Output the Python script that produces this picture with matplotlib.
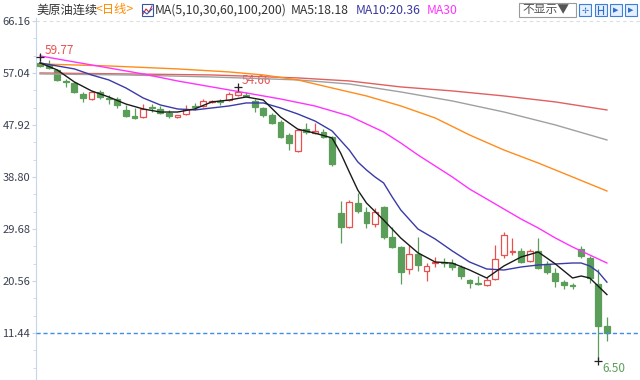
import matplotlib
matplotlib.use("Agg")
import matplotlib.pyplot as plt
from matplotlib.patches import Rectangle
from matplotlib.lines import Line2D
from matplotlib.ticker import AutoMinorLocator

plt.rcParams['font.family'] = ['Noto Sans CJK SC', 'DejaVu Sans']

# daily candles
opens = [58.81, 58.46, 57.58, 55.65, 55.30, 53.37, 52.49, 53.72, 52.67, 52.49,
         50.56, 49.51, 49.33, 51.09, 50.74, 50.04, 49.33, 49.86, 51.27, 51.27,
         51.90, 52.14, 52.32, 53.20, 53.20, 52.14, 50.91, 49.68, 48.46, 46.18,
         43.37, 47.23, 46.60, 46.70, 45.83, 32.49, 30.04, 34.25, 32.67, 30.56,
         33.54, 28.28, 26.53, 22.67, 25.30, 22.32, 23.72, 23.90, 23.72, 23.02,
         20.74, 20.20, 19.86, 20.91, 25.12, 25.65, 25.82, 24.07, 25.82, 23.55,
         21.97, 20.39, 19.80, 26.18, 24.60, 20.04, 12.67]
highs = [59.77, 59.33, 57.76, 56.00, 55.47, 53.72, 53.90, 54.07, 53.20, 52.84,
         51.44, 50.90, 51.60, 51.60, 51.27, 50.56, 49.68, 51.44, 51.79, 52.49,
         52.30, 52.49, 53.72, 54.66, 53.72, 52.49, 51.09, 50.04, 48.81, 46.53,
         47.23, 48.28, 48.28, 47.23, 46.00, 34.60, 34.77, 36.00, 33.54, 33.37,
         33.72, 30.04, 26.70, 26.88, 28.28, 23.72, 24.77, 24.60, 24.42, 23.37,
         20.91, 21.44, 21.26, 26.88, 29.16, 28.10, 26.35, 26.18, 28.10, 24.07,
         22.84, 20.74, 20.21, 26.70, 24.95, 22.67, 14.25]
lows = [58.11, 57.76, 55.65, 54.60, 53.55, 51.97, 52.32, 52.49, 51.60, 50.90,
        49.33, 48.98, 49.16, 50.20, 49.86, 49.16, 49.20, 49.68, 50.56, 51.09,
        51.80, 51.44, 52.14, 53.02, 52.84, 50.20, 49.33, 48.10, 45.65, 43.54,
        43.19, 46.35, 46.35, 45.65, 40.74, 27.23, 29.86, 32.49, 29.86, 30.04,
        27.93, 26.35, 20.04, 21.79, 22.32, 20.56, 23.02, 23.02, 22.49, 20.91,
        19.33, 19.86, 19.68, 20.74, 24.60, 25.12, 23.72, 23.90, 22.67, 21.79,
        19.51, 19.16, 19.16, 24.60, 20.21, 6.50, 10.04]
closes = [58.28, 57.93, 55.83, 55.47, 53.72, 52.67, 53.72, 52.84, 52.49, 51.44,
          49.51, 49.16, 50.74, 50.82, 50.04, 49.51, 49.60, 50.74, 51.09, 52.14,
          52.05, 51.88, 53.37, 53.72, 53.02, 51.09, 49.68, 48.28, 45.83, 44.77,
          47.05, 46.70, 46.88, 45.83, 41.09, 30.04, 34.42, 32.84, 30.74, 32.67,
          28.28, 26.53, 22.14, 25.30, 23.37, 23.20, 23.98, 23.72, 23.02, 21.44,
          20.21, 20.00, 20.74, 24.42, 28.63, 25.90, 23.90, 25.82, 22.84, 22.14,
          20.56, 19.86, 19.60, 24.95, 21.09, 12.67, 11.44]

# moving averages, sampled at candle positions
ma5_idx = [0, 2, 4, 6, 8, 10, 12, 14, 16, 18, 20, 22, 24, 26, 28, 30, 32, 34, 35,
           36, 37, 38, 40, 42, 44, 46, 48, 50, 52, 54, 56, 58, 60, 62, 63, 64, 66]
ma5 = [58.81, 57.58, 55.47, 53.90, 52.84, 51.60, 50.74, 50.20, 50.20, 50.74, 51.97,
       52.30, 52.84, 52.30, 49.33, 47.20, 46.50, 45.65, 43.00, 39.70, 36.50, 34.25,
       31.26, 28.10, 25.50, 23.90, 23.70, 22.50, 21.09, 23.20, 24.77, 25.65, 23.55,
       21.09, 21.44, 21.09, 18.18]
ma10_idx = [0, 2, 4, 6, 8, 10, 12, 14, 16, 18, 20, 22, 24, 26, 28, 30, 32, 34, 36,
            37, 38, 39, 40, 41, 42, 44, 46, 48, 50, 52, 54, 56, 58, 60, 62, 63, 64,
            65, 66]
ma10 = [58.81, 58.28, 57.76, 56.70, 55.83, 54.42, 52.67, 51.44, 50.74, 50.56, 50.91,
        51.26, 51.79, 51.79, 50.91, 49.86, 48.63, 46.88, 43.54, 41.44, 40.04, 38.81,
        37.76, 35.30, 33.02, 29.68, 27.93, 25.83, 23.90, 22.67, 22.49, 23.02, 23.37,
        23.55, 23.72, 23.72, 23.20, 22.14, 20.36]
ma30_idx = [0, 4, 8, 12, 16, 20, 24, 28, 32, 36, 40, 42, 44, 46, 48, 50, 52, 54,
            56, 58, 60, 62, 64, 66]
ma30 = [60.04, 58.98, 57.93, 56.88, 55.65, 54.60, 53.55, 52.49, 51.26, 49.51, 46.70,
        44.77, 42.67, 40.74, 38.81, 36.70, 34.95, 33.19, 31.44, 29.86, 28.10, 26.53,
        25.12, 23.72]
ma60_idx = [0, 8, 16, 22, 26, 30, 34, 38, 42, 46, 50, 54, 58, 62, 66]
ma60 = [58.63, 58.28, 57.76, 57.23, 56.70, 55.83, 54.42, 53.02, 51.27, 49.16, 46.18,
        43.54, 41.26, 38.81, 36.35]
ma100_idx = [0, 10, 20, 30, 36, 42, 48, 54, 60, 66]
ma100 = [56.88, 56.70, 56.35, 55.83, 55.12, 53.72, 52.14, 50.21, 47.93, 45.30]
ma200_idx = [0, 10, 20, 30, 36, 42, 48, 54, 60, 66]
ma200 = [57.05, 56.88, 56.70, 56.18, 55.65, 54.60, 53.90, 53.02, 51.97, 50.56]

ytick_vals = [11.44, 20.56, 29.68, 38.80, 47.92, 57.04, 66.16]

UP = '#e8514f'
DOWN = '#5a9e5a'

fig = plt.figure(figsize=(6.4, 3.8), dpi=100)
ax = fig.add_axes([36 / 640, 0, 1 - 36 / 640, (380 - 18) / 380])
ax.set_xlim(-0.47, 69.85)
ax.set_ylim(3.20, 66.69)

# candles
w = 0.68
for i, (o, h, l, c) in enumerate(zip(opens, highs, lows, closes)):
    col = UP if c >= o else DOWN
    ax.vlines(i, l, h, color=col, lw=0.9, zorder=2)
    bot = min(o, c)
    hgt = max(abs(c - o), 0.12)
    face = 'white' if c >= o else DOWN
    ax.add_patch(Rectangle((i - w / 2, bot), w, hgt, facecolor=face,
                           edgecolor=col, lw=0.9, zorder=3))

# moving averages
ax.plot(ma200_idx, ma200, color='#e06060', lw=1.0, zorder=4)
ax.plot(ma100_idx, ma100, color='#a0a0a0', lw=1.0, zorder=4)
ax.plot(ma60_idx, ma60, color='#ff8c1a', lw=1.0, zorder=4)
ax.plot(ma30_idx, ma30, color='#ff33ff', lw=1.0, zorder=4)
ax.plot(ma10_idx, ma10, color='#3a3aa8', lw=1.0, zorder=5)
ax.plot(ma5_idx, ma5, color='#1a1a1a', lw=1.0, zorder=5)

# reference lines
ax.axhline(66.16, color='#dddddd', lw=0.8, ls=(0, (3, 3)), zorder=1)
ax.axhline(closes[-1], color='#3d8ee8', lw=1.0, ls=(0, (3, 2)), zorder=6)

# high / low markers
hi_i = highs.index(max(highs))
ax.plot([hi_i, 23, 65], [highs[hi_i], highs[23], lows[65]], '+', color='#222222',
        ms=6, mew=0.9, zorder=7)
ax.annotate('59.77', xy=(hi_i, highs[hi_i]), xytext=(5, 7), textcoords='offset pixels',
            color=UP, fontsize=8.5, va='center', ha='left')
ax.annotate('54.66', xy=(23, highs[23]), xytext=(4, 6), textcoords='offset pixels',
            color=UP, fontsize=8.5, va='center', ha='left')
ax.annotate('6.50', xy=(65, lows[65]), xytext=(4, -7), textcoords='offset pixels',
            color='#5aa05a', fontsize=8.5, va='center', ha='left')

# axes styling
for s in ['top', 'right', 'bottom']:
    ax.spines[s].set_visible(False)
ax.spines['left'].set_color('#c6d6e8')
ax.set_xticks([])
ax.set_yticks(ytick_vals)
ax.set_yticklabels(['%.2f' % v for v in ytick_vals])
ax.yaxis.set_minor_locator(AutoMinorLocator(3))
ax.tick_params(axis='y', which='major', length=3, color='#c6d6e8', labelsize=8,
               labelcolor='#3a4050', pad=1)
ax.tick_params(axis='y', which='minor', length=2, color='#c6d6e8')


def px(x, y):
    return x / 640, 1 - y / 380


# header
hy = 10
fig.text(*px(36, hy), '美原油连续', fontsize=8.8, color='#333333', va='center')
fig.text(*px(95, hy), '<日线>', fontsize=8.8, color='#ff8c00', va='center')
fig.text(*px(155, hy), 'MA(5,10,30,60,100,200)', fontsize=8.8, color='#333333', va='center')
fig.text(*px(291, hy), 'MA5:18.18', fontsize=8.8, color='#333333', va='center')
fig.text(*px(356, hy), 'MA10:20.36', fontsize=8.8, color='#3a3aa0', va='center')
fig.text(*px(427, hy), 'MA30', fontsize=8.8, color='#ff33ff', va='center')

# small MA icon
x0, y0 = px(142, 16)
fig.patches.append(Rectangle((x0, y0), 11 / 640, 12 / 380, transform=fig.transFigure,
                             facecolor='white', edgecolor='#3355aa', lw=0.8))
fig.lines.append(Line2D([px(143, 0)[0], px(146, 0)[0], px(149, 0)[0], px(152, 0)[0]],
                        [px(0, 14)[1], px(0, 9)[1], px(0, 12)[1], px(0, 6)[1]],
                        transform=fig.transFigure, color='#d03030', lw=0.8))
fig.lines.append(Line2D([px(143, 0)[0], px(147, 0)[0], px(152, 0)[0]],
                        [px(0, 11)[1], px(0, 14)[1], px(0, 9)[1]],
                        transform=fig.transFigure, color='#3050c0', lw=0.8))

# "不显示" dropdown
bx, by = px(519, 17)
fig.patches.append(Rectangle((bx, by), 57 / 640, 14 / 380, transform=fig.transFigure,
                             facecolor='white', edgecolor='#9a9a9a', lw=0.8))
fig.text(*px(522, hy), '不显示▼', fontsize=8.5, color='#555555', va='center')

# toolbar buttons
for bx0 in [579, 595, 610, 625]:
    x0, y0 = px(bx0, 16)
    fig.patches.append(Rectangle((x0, y0), 12 / 640, 12 / 380, transform=fig.transFigure,
                                 facecolor='#e4efff', edgecolor='#3d7fd6', lw=0.8))
cx, cy = px(585, 10)
fig.text(cx, cy, '✢', fontsize=6, color='#2f6fc8', ha='center', va='center',
         family=['DejaVu Sans'])
fig.lines.append(Line2D([px(598, 0)[0]] * 2, [px(0, 6)[1], px(0, 14)[1]],
                        transform=fig.transFigure, color='#2f6fc8', lw=0.8))
fig.lines.append(Line2D([px(603, 0)[0]] * 2, [px(0, 6)[1], px(0, 14)[1]],
                        transform=fig.transFigure, color='#2f6fc8', lw=0.8))
fig.lines.append(Line2D([px(598, 0)[0], px(603, 0)[0]], [px(0, 10)[1]] * 2,
                        transform=fig.transFigure, color='#2f6fc8', lw=0.8))
fig.text(*px(616, 10), '▶', fontsize=5, color='#2f6fc8', ha='center', va='center',
         family=['DejaVu Sans'])
fig.text(*px(631, 10), '▶', fontsize=5, color='#2f6fc8', ha='center', va='center',
         family=['DejaVu Sans'])

fig.savefig('out.png', dpi=100)
